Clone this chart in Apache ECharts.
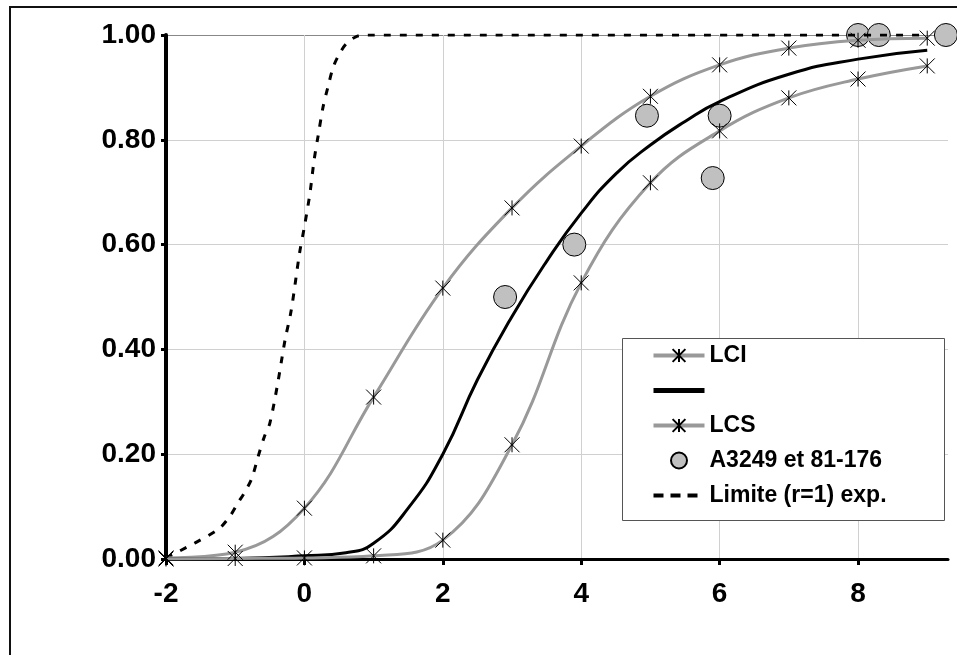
<!DOCTYPE html>
<html>
<head>
<meta charset="utf-8">
<script src="https://cdn.jsdelivr.net/npm/echarts@6/dist/echarts.min.js"></script>
<style>
    html, body { margin: 0; padding: 0; background: #fff; }
    #chart { width: 957px; height: 655px; }
</style>
</head>
<body>
<div id="chart"></div>
<script>
// points entiers des courbes LCI / LCS
var xInt = [-2, -1, 0, 1, 2, 3, 4, 5, 6, 7, 8, 9];
var lci = [0.002, 0.013, 0.097, 0.309, 0.517, 0.670, 0.788, 0.883, 0.943, 0.975, 0.990, 0.994];
var lcs = [0.000, 0.001, 0.002, 0.006, 0.036, 0.218, 0.527, 0.718, 0.817, 0.880, 0.916, 0.941];

// courbe centrale (sans nom dans la legende)
var midX = [-2, -1, 0, 0.6, 1, 1.5, 2, 2.5, 3, 3.5, 4, 4.5, 5, 5.5, 6, 7, 8, 9];
var midY = [0, 0.001, 0.006, 0.012, 0.03, 0.097, 0.2, 0.342, 0.463, 0.568, 0.66, 0.735, 0.79, 0.835, 0.873, 0.925, 0.954, 0.971];

// limite (r=1)
var limX = [-2, -1.26, -1.08, -0.96, -0.86, -0.76, -0.67, -0.58, -0.5, -0.39, -0.28, -0.19, -0.07, 0, 0.08, 0.14, 0.2, 0.27, 0.34, 0.42, 0.51, 0.61, 0.75, 0.9, 9];
var limY = [0.002, 0.055, 0.081, 0.107, 0.128, 0.154, 0.195, 0.233, 0.259, 0.332, 0.418, 0.475, 0.584, 0.634, 0.698, 0.761, 0.809, 0.863, 0.901, 0.94, 0.965, 0.984, 0.997, 1.0, 1.0];

// A3249 et 81-176
var obsX = [2.9, 3.9, 4.95, 5.9, 6.0, 8.0, 8.3, 9.27];
var obsY = [0.50, 0.60, 0.846, 0.727, 0.846, 1.0, 1.0, 1.0];

var xTicks = [-2, 0, 2, 4, 6, 8];

var FONT = '"Liberation Sans", Arial, sans-serif';
var STAR = 'path://M0,0L10,10M10,0L0,10M5,0L5,10';

//@param {array} xs
//@param {array} ys
//@return: [[x,y],...]
function zip( xs, ys ) {
    return xs.map(function (x, i) { return [x, ys[i]]; });
}

function drawChart( id ) {
    var myChart = echarts.init(document.getElementById( id )),
        gridColor = '#d0d0d0',
        noMark = { color: 'transparent', borderWidth: 0, opacity: 0 },
        option = {
            animation: false,
            backgroundColor: '#fff',
            grid: {
                left: 166,
                right: 9,
                top: 35,
                bottom: 96,
                containLabel: false
            },
            graphic: [
                {
                    type: 'rect',
                    z: 0,
                    shape: { x: 10, y: 7, width: 1000, height: 700 },
                    style: { fill: 'none', stroke: '#111', lineWidth: 2 }
                },
                {
                    type: 'rect',
                    z: 50,
                    shape: { x: 622.5, y: 338.5, width: 322, height: 182 },
                    style: { fill: '#fff', stroke: '#555', lineWidth: 1 }
                }
            ],
            legend: {
                z: 60,
                orient: 'vertical',
                left: 651,
                top: 343,
                padding: 0,
                itemWidth: 51,
                itemHeight: 16,
                itemGap: 10,
                data: [
                    { name: 'LCI', lineStyle: { width: 4 } },
                    { name: ' ', lineStyle: { width: 5 }, itemStyle: noMark },
                    { name: 'LCS', lineStyle: { width: 4 } },
                    { name: 'A3249 et 81-176' },
                    { name: 'Limite (r=1) exp.', lineStyle: { width: 4, type: [10, 7] }, itemStyle: noMark }
                ],
                textStyle: {
                    fontFamily: FONT,
                    fontWeight: 'bold',
                    fontSize: 23,
                    lineHeight: 25,
                    color: '#000'
                }
            },
            xAxis: {
                type: 'value',
                min: -2,
                max: 9.3,
                interval: 2,
                axisLine: { onZero: false, lineStyle: { color: '#000', width: 3 } },
                axisTick: { length: 6, lineStyle: { color: '#000', width: 3 }, customValues: xTicks },
                axisLabel: {
                    margin: 21,
                    showMaxLabel: false,
                    fontFamily: FONT,
                    fontWeight: 'bold',
                    fontSize: 28,
                    color: '#000'
                },
                splitLine: { show: true, lineStyle: { color: gridColor, width: 1 } }
            },
            yAxis: {
                type: 'value',
                min: 0,
                max: 1,
                interval: 0.2,
                axisLine: { show: true, onZero: false, lineStyle: { color: '#000', width: 4 } },
                axisTick: { show: true, length: 5, lineStyle: { color: '#000', width: 3 } },
                axisLabel: {
                    margin: 10,
                    fontFamily: FONT,
                    fontWeight: 'bold',
                    fontSize: 28,
                    color: '#000',
                    formatter: function (v) { return v.toFixed(2); }
                },
                splitLine: {
                    show: true,
                    lineStyle: { color: [gridColor, gridColor, gridColor, gridColor, gridColor, '#888'], width: 1 }
                }
            },
            series: [
                {
                    name: 'Limite (r=1) exp.',
                    type: 'line',
                    data: zip(limX, limY),
                    smooth: 0.3,
                    symbol: 'none',
                    itemStyle: { color: '#000' },
                    lineStyle: { color: '#000', width: 3, type: [7, 9] }
                },
                {
                    name: 'LCI',
                    type: 'line',
                    data: zip(xInt, lci),
                    smooth: 0.4,
                    symbol: STAR,
                    symbolSize: 15,
                    itemStyle: { color: '#000', borderColor: '#000', borderWidth: 1 },
                    lineStyle: { color: '#999', width: 3 }
                },
                {
                    name: ' ',
                    type: 'line',
                    data: zip(midX, midY),
                    smooth: 0.5,
                    symbol: 'none',
                    itemStyle: { color: '#000' },
                    lineStyle: { color: '#000', width: 3 }
                },
                {
                    name: 'LCS',
                    type: 'line',
                    data: zip(xInt, lcs),
                    smooth: 0.4,
                    symbol: STAR,
                    symbolSize: 15,
                    itemStyle: { color: '#000', borderColor: '#000', borderWidth: 1 },
                    lineStyle: { color: '#999', width: 3 }
                },
                {
                    name: 'A3249 et 81-176',
                    type: 'scatter',
                    data: zip(obsX, obsY),
                    symbol: 'circle',
                    symbolSize: 23,
                    clip: false,
                    itemStyle: { color: '#c0c0c0', borderColor: '#000', borderWidth: 1, opacity: 1 }
                }
            ]
        };

    myChart.setOption(option);
}

drawChart('chart');
</script>
</body>
</html>
